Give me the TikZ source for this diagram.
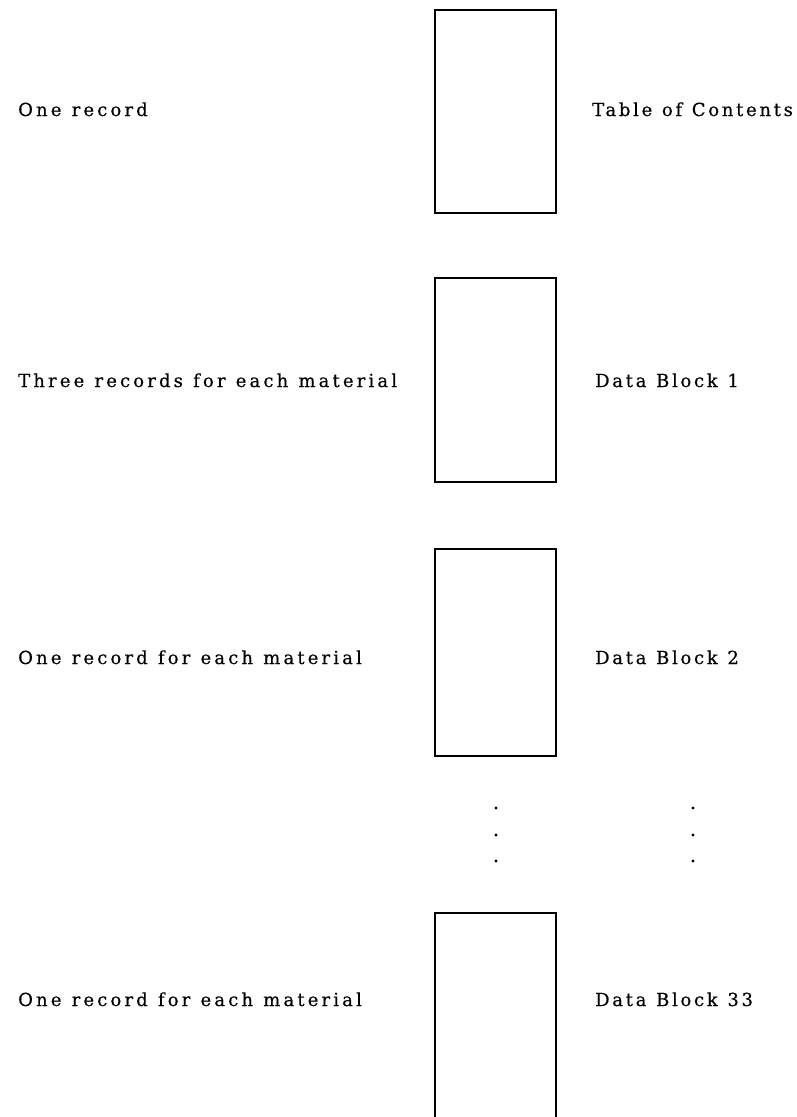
\documentclass[tikz,border=0pt]{standalone}
\usepackage{fontspec}
\setmainfont{DejaVu Serif}[LetterSpace=15,WordSpace=1.15,FakeBold=0.4]
\begin{document}
\begin{tikzpicture}[x=1pt,y=-1pt,
  blockbox/.style={draw,line width=2pt,minimum width=121pt,inner sep=0pt},
  lbl/.style={anchor=base west,inner sep=0pt,font=\fontsize{18}{21}\selectfont},
  leftlbl/.style={lbl,font=\fontsize{18}{21}\selectfont\addfontfeatures{LetterSpace=17.5}},
  vdot/.style={circle,fill,inner sep=0pt,minimum size=3.4pt}]
\path[use as bounding box] (0,0) rectangle (797,1117);
\clip (0,0) rectangle (797,1117);
% boxes
\node[blockbox,minimum height=203pt] (b1) at (495.5,111.5) {};
\node[blockbox,minimum height=204pt] (b2) at (495.5,380) {};
\node[blockbox,minimum height=207pt] (b3) at (495.5,652.5) {};
\node[blockbox,minimum height=214pt] (b4) at (495.5,1020) {};
% left labels
\node[leftlbl] (l1) at (18,116) {One record};
\node[leftlbl] (l2) at (18,387) {Three records for each material};
\node[leftlbl] (l3) at (18,664) {One record for each material};
\node[leftlbl] (l4) at (18,1006) {One record for each material};
% right labels
\node[lbl] (r1) at (592,116) {Table of Contents};
\node[lbl] (r2) at (595,387) {Data Block 1};
\node[lbl] (r3) at (595,664) {Data Block 2};
\node[lbl] (r4) at (595,1006) {Data Block 33};
% ellipsis dots
\node[vdot] (d1) at (496,808) {};
\node[vdot] (d2) at (496,835) {};
\node[vdot] (d3) at (496,861) {};
\node[vdot] (e1) at (693,808) {};
\node[vdot] (e2) at (693,835) {};
\node[vdot] (e3) at (693,861) {};
\end{tikzpicture}
\end{document}
